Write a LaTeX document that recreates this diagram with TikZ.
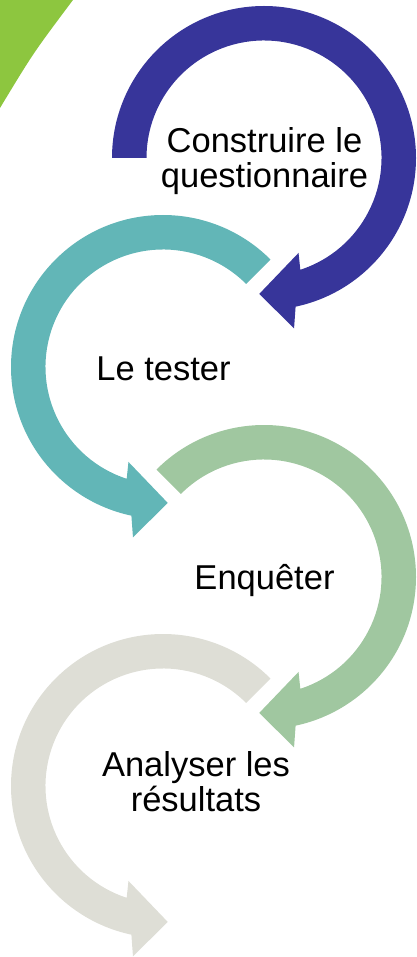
\documentclass[tikz,border=0pt]{standalone}
\usepackage{fontspec}
\setmainfont{Liberation Sans}
\definecolor{cblue}{RGB}{55,53,154}
\definecolor{cteal}{RGB}{98,182,183}
\definecolor{cgreen}{RGB}{160,199,160}
\definecolor{cgray}{RGB}{222,222,214}
\definecolor{clime}{RGB}{141,198,63}
\tikzset{
  lbl/.style={inner sep=0pt, align=center, text=black, font=\fontsize{34.5}{35}\selectfont},
  cwarrow/.style={fill=#1},
  ccwarrow/.style={fill=#1}
}
\begin{document}
\begin{tikzpicture}[x=1pt,y=1pt]
\useasboundingbox (0,0) rectangle (417,-957);
% corner
\fill[clime] (0,0) -- (73,0) .. controls (33.5,-52.6) .. (0,-108) -- cycle;
% arrow 1 (clockwise)
\begin{scope}[shift={(264,-158)}]
\fill[cblue] (180:152) arc[start angle=180, end angle=-78, radius=152]
  -- (-80:173) -- (-92:136) -- (-70:101) -- (-72:117.5)
  arc[start angle=-72, end angle=180, radius=117.5] -- cycle;
\end{scope}
% arrow 2 (counterclockwise)
\begin{scope}[shift={(163,-367)}]
\fill[cteal] (45:152) arc[start angle=45, end angle=258, radius=152]
  -- (260:173) -- (272:136) -- (250:101) -- (252:117.5)
  arc[start angle=252, end angle=45, radius=117.5] -- cycle;
\end{scope}
% arrow 3 (clockwise)
\begin{scope}[shift={(264,-577)}]
\fill[cgreen] (135:152) arc[start angle=135, end angle=-78, radius=152]
  -- (-80:173) -- (-92:136) -- (-70:101) -- (-72:117.5)
  arc[start angle=-72, end angle=135, radius=117.5] -- cycle;
\end{scope}
% arrow 4 (counterclockwise)
\begin{scope}[shift={(163,-786)}]
\fill[cgray] (45:152) arc[start angle=45, end angle=258, radius=152]
  -- (260:173) -- (272:136) -- (250:101) -- (252:117.5)
  arc[start angle=252, end angle=45, radius=117.5] -- cycle;
\end{scope}
% labels
\node[lbl] (t1) at (264.5,-161.5) {Construire le\\questionnaire};
\node[lbl, anchor=base] (t2) at (163.5,-380) {Le tester};
\node[lbl, anchor=base] (t3) at (264.5,-589) {Enquêter};
\node[lbl] (t4) at (196,-781.7) {Analyser les\\résultats};
\end{tikzpicture}
\end{document}
